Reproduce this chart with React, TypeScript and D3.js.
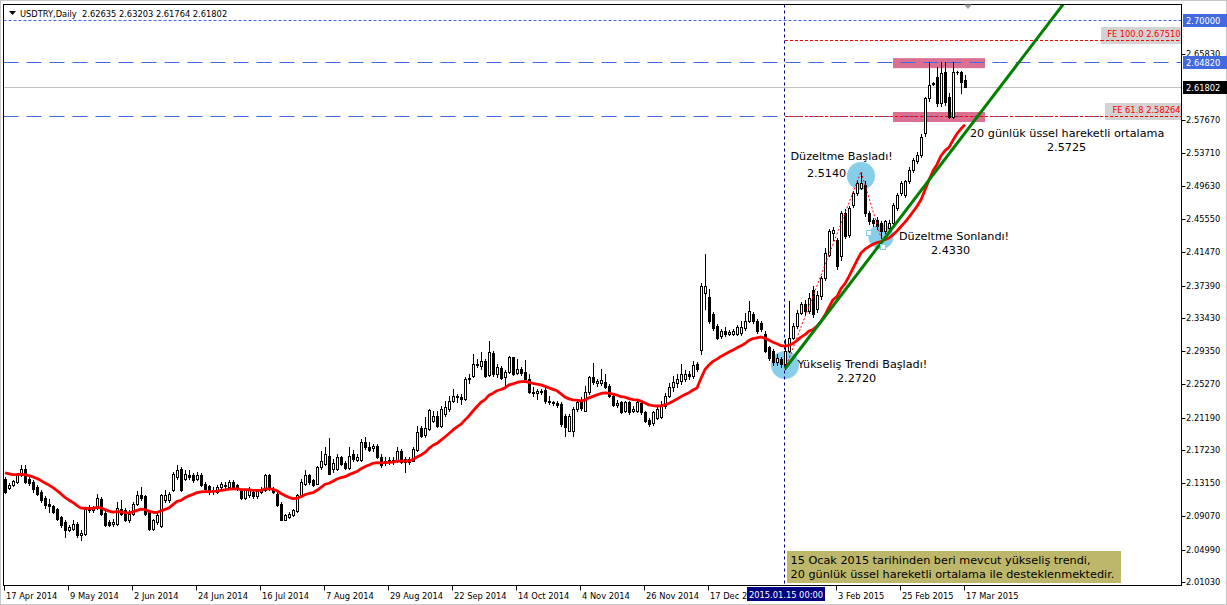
import React from 'react';
import * as d3 from 'd3';

// ---------- data (USDTRY Daily) ----------
const opens = [
  2.1370, 2.1260, 2.1297, 2.1329, 2.1411, 2.1492, 2.1370, 2.1329, 2.1268, 2.1207,
  2.1137, 2.1056, 2.1031, 2.1003, 2.0901, 2.0840, 2.0738, 2.0758, 2.0819, 2.0676,
  2.0697, 2.1015, 2.0990, 2.1015, 2.1125, 2.0950, 2.0840, 2.0811, 2.0819, 2.1003,
  2.0982, 2.0860, 2.0942, 2.1064, 2.1166, 2.1154, 2.0962, 2.0758, 2.0840, 2.0787,
  2.1105, 2.1105, 2.1227, 2.1390, 2.1492, 2.1370, 2.1419, 2.1419, 2.1370, 2.1411,
  2.1309, 2.1276, 2.1219, 2.1207, 2.1268, 2.1276, 2.1268, 2.1329, 2.1288, 2.1227,
  2.1137, 2.1166, 2.1207, 2.1154, 2.1207, 2.1227, 2.1411, 2.1248, 2.1186, 2.1064,
  2.0868, 2.0901, 2.0921, 2.0974, 2.1166, 2.1309, 2.1411, 2.1350, 2.1309, 2.1513,
  2.1554, 2.1655, 2.1492, 2.1492, 2.1635, 2.1561, 2.1504, 2.1675, 2.1602, 2.1602,
  2.1826, 2.1765, 2.1749, 2.1777, 2.1643, 2.1561, 2.1586, 2.1573, 2.1586, 2.1716,
  2.1573, 2.1573, 2.1594, 2.1724, 2.1990, 2.1912, 2.1981, 2.2083, 2.2145, 2.2022,
  2.2165, 2.2226, 2.2328, 2.2389, 2.2377, 2.2349, 2.2593, 2.2634, 2.2761, 2.2757,
  2.2818, 2.2646, 2.2908, 2.2655, 2.2728, 2.2614, 2.2675, 2.2859, 2.2663, 2.2716,
  2.2675, 2.2593, 2.2438, 2.2418, 2.2430, 2.2459, 2.2328, 2.2308, 2.2296, 2.2287,
  2.2145, 2.1961, 2.1961, 2.2226, 2.2328, 2.2206, 2.2430, 2.2614, 2.2545, 2.2540,
  2.2553, 2.2512, 2.2389, 2.2279, 2.2308, 2.2198, 2.2308, 2.2206, 2.2206, 2.2296,
  2.2185, 2.2091, 2.2051, 2.2116, 2.2132, 2.2260, 2.2390, 2.2500, 2.2540, 2.2570,
  2.2600, 2.2650, 2.2630, 2.2780, 2.2950, 2.3650, 2.3600, 2.3389, 2.3246, 2.3124,
  2.3185, 2.3150, 2.3152, 2.3152, 2.3160, 2.3226, 2.3307, 2.3389, 2.3307, 2.3287,
  2.3144, 2.2981, 2.2940, 2.2797, 2.2838, 2.2777, 2.2940, 2.3103, 2.3246, 2.3409,
  2.3511, 2.3430, 2.3692, 2.3450, 2.3610, 2.3835, 2.4121, 2.4380, 2.4305, 2.4100,
  2.4631, 2.4366, 2.4733, 2.4876, 2.4937, 2.4978, 2.4631, 2.4550, 2.4550, 2.4509,
  2.4407, 2.4448, 2.4509, 2.4692, 2.4876, 2.4856, 2.5019, 2.5162, 2.5264, 2.5344,
  2.5609, 2.6038, 2.6229, 2.6300, 2.5977, 2.6364, 2.6058, 2.5813, 2.6364, 2.6364,
  2.62635,
];
const closes = [
  2.1207, 2.1289, 2.1337, 2.1411, 2.1492, 2.1329, 2.1317, 2.1248, 2.1186, 2.1105,
  2.1044, 2.1040, 2.0962, 2.0880, 2.0799, 2.0738, 2.0778, 2.0819, 2.0676, 2.0705,
  2.1003, 2.0990, 2.1007, 2.1137, 2.0942, 2.0799, 2.0799, 2.0840, 2.1015, 2.0942,
  2.0860, 2.0942, 2.1064, 2.1166, 2.1137, 2.0942, 2.0758, 2.0860, 2.0921, 2.1166,
  2.1166, 2.1186, 2.1431, 2.1480, 2.1227, 2.1431, 2.1390, 2.1350, 2.1411, 2.1288,
  2.1248, 2.1207, 2.1235, 2.1268, 2.1309, 2.1288, 2.1329, 2.1268, 2.1268, 2.1137,
  2.1227, 2.1227, 2.1154, 2.1219, 2.1235, 2.1411, 2.1248, 2.1207, 2.1044, 2.0868,
  2.0921, 2.0942, 2.0982, 2.1166, 2.1329, 2.1411, 2.1329, 2.1288, 2.1513, 2.1594,
  2.1676, 2.1431, 2.1561, 2.1635, 2.1553, 2.1504, 2.1655, 2.1614, 2.1643, 2.1826,
  2.1757, 2.1724, 2.1769, 2.1635, 2.1533, 2.1594, 2.1602, 2.1602, 2.1716, 2.1573,
  2.1614, 2.1614, 2.1737, 2.1941, 2.1900, 2.1994, 2.2214, 2.2145, 2.2022, 2.2226,
  2.2247, 2.2328, 2.2389, 2.2369, 2.2349, 2.2593, 2.2606, 2.2777, 2.2777, 2.2810,
  2.2634, 2.2920, 2.2655, 2.2736, 2.2606, 2.2675, 2.2867, 2.2655, 2.2716, 2.2663,
  2.2593, 2.2430, 2.2418, 2.2442, 2.2451, 2.2328, 2.2308, 2.2296, 2.2279, 2.2042,
  2.2002, 2.2145, 2.2226, 2.2308, 2.2238, 2.2430, 2.2622, 2.2553, 2.2573, 2.2581,
  2.2500, 2.2389, 2.2279, 2.2300, 2.2185, 2.2308, 2.2185, 2.2222, 2.2308, 2.2185,
  2.2083, 2.2042, 2.2185, 2.2226, 2.2267, 2.2390, 2.2500, 2.2560, 2.2600, 2.2660,
  2.2660, 2.2630, 2.2770, 2.2720, 2.3733, 2.3733, 2.3300, 2.3226, 2.3103, 2.3185,
  2.3150, 2.3177, 2.3185, 2.3234, 2.3234, 2.3307, 2.3430, 2.3307, 2.3185, 2.3205,
  2.2940, 2.2858, 2.2797, 2.2858, 2.2777, 2.2940, 2.3103, 2.3246, 2.3409, 2.3511,
  2.3430, 2.3590, 2.3386, 2.3630, 2.3835, 2.4142, 2.4407, 2.4420, 2.3978, 2.4631,
  2.4346, 2.4692, 2.4876, 2.4998, 2.4998, 2.4631, 2.4529, 2.4509, 2.4468, 2.4407,
  2.4529, 2.4509, 2.4733, 2.4856, 2.4998, 2.5019, 2.5162, 2.5284, 2.5345, 2.5569,
  2.6038, 2.6200, 2.6220, 2.5977, 2.6344, 2.5997, 2.5813, 2.6364, 2.6360, 2.6242,
  2.61802,
];
const highs = [
  2.1390, 2.1317, 2.1358, 2.1439, 2.1541, 2.1533, 2.1390, 2.1350, 2.1288, 2.1227,
  2.1154, 2.1125, 2.1044, 2.1015, 2.0909, 2.0860, 2.0799, 2.0860, 2.0840, 2.0738,
  2.1023, 2.1044, 2.1031, 2.1178, 2.1146, 2.0974, 2.0860, 2.0880, 2.1084, 2.1105,
  2.1015, 2.0982, 2.1084, 2.1219, 2.1268, 2.1166, 2.0982, 2.0880, 2.0950, 2.1186,
  2.1227, 2.1207, 2.1452, 2.1533, 2.1513, 2.1472, 2.1472, 2.1439, 2.1452, 2.1439,
  2.1329, 2.1288, 2.1268, 2.1288, 2.1329, 2.1329, 2.1350, 2.1350, 2.1309, 2.1248,
  2.1248, 2.1268, 2.1227, 2.1248, 2.1268, 2.1431, 2.1423, 2.1268, 2.1207, 2.1084,
  2.0942, 2.0962, 2.1003, 2.1178, 2.1370, 2.1472, 2.1431, 2.1370, 2.1521, 2.1709,
  2.1758, 2.1871, 2.1614, 2.1675, 2.1655, 2.1594, 2.1765, 2.1724, 2.1675, 2.1859,
  2.1879, 2.1818, 2.1798, 2.1798, 2.1675, 2.1635, 2.1643, 2.1635, 2.1765, 2.1737,
  2.1643, 2.1635, 2.1757, 2.2022, 2.2022, 2.2124, 2.2226, 2.2206, 2.2206, 2.2267,
  2.2328, 2.2389, 2.2471, 2.2410, 2.2410, 2.2614, 2.2655, 2.2899, 2.2838, 2.2920,
  2.2838, 2.3063, 2.2932, 2.2777, 2.2757, 2.2704, 2.2879, 2.2867, 2.2838, 2.2736,
  2.2826, 2.2655, 2.2491, 2.2471, 2.2471, 2.2483, 2.2389, 2.2328, 2.2328, 2.2308,
  2.2165, 2.2165, 2.2255, 2.2328, 2.2369, 2.2512, 2.2634, 2.2789, 2.2593, 2.2716,
  2.2655, 2.2532, 2.2410, 2.2336, 2.2328, 2.2328, 2.2328, 2.2267, 2.2328, 2.2308,
  2.2206, 2.2116, 2.2206, 2.2247, 2.2320, 2.2420, 2.2540, 2.2631, 2.2650, 2.2773,
  2.2700, 2.2690, 2.2810, 2.2800, 2.3770, 2.4128, 2.3700, 2.3420, 2.3270, 2.3210,
  2.3230, 2.3200, 2.3210, 2.3260, 2.3300, 2.3409, 2.3552, 2.3420, 2.3330, 2.3310,
  2.3185, 2.3000, 2.2960, 2.2900, 2.2870, 2.3083, 2.3552, 2.3280, 2.3440, 2.3540,
  2.3560, 2.3650, 2.3740, 2.3680, 2.3860, 2.4203, 2.4430, 2.4460, 2.4330, 2.4660,
  2.4680, 2.4720, 2.4900, 2.5040, 2.5140, 2.5020, 2.4650, 2.4570, 2.4580, 2.4530,
  2.4550, 2.4540, 2.4760, 2.4880, 2.5030, 2.5040, 2.5190, 2.5310, 2.5380, 2.5600,
  2.6060, 2.6482, 2.6240, 2.6420, 2.6482, 2.6482, 2.6100, 2.6482, 2.6370, 2.6380,
  2.63203,
];
const lows = [
  2.1195, 2.1244, 2.1284, 2.1317, 2.1399, 2.1317, 2.1288, 2.1207, 2.1166, 2.1084,
  2.1015, 2.0962, 2.0950, 2.0868, 2.0778, 2.0656, 2.0725, 2.0738, 2.0656, 2.0615,
  2.0676, 2.0962, 2.0962, 2.1003, 2.0929, 2.0787, 2.0787, 2.0787, 2.0807, 2.0921,
  2.0848, 2.0840, 2.0921, 2.1044, 2.1105, 2.0921, 2.0738, 2.0746, 2.0819, 2.0778,
  2.1084, 2.1084, 2.1219, 2.1370, 2.1215, 2.1350, 2.1370, 2.1329, 2.1350, 2.1276,
  2.1235, 2.1186, 2.1178, 2.1195, 2.1248, 2.1248, 2.1248, 2.1248, 2.1227, 2.1125,
  2.1125, 2.1146, 2.1137, 2.1137, 2.1195, 2.1219, 2.1235, 2.1195, 2.1031, 2.0860,
  2.0860, 2.0893, 2.0909, 2.0962, 2.1154, 2.1288, 2.1309, 2.1276, 2.1300, 2.1492,
  2.1533, 2.1423, 2.1451, 2.1480, 2.1533, 2.1492, 2.1492, 2.1594, 2.1586, 2.1594,
  2.1737, 2.1708, 2.1716, 2.1627, 2.1512, 2.1533, 2.1553, 2.1553, 2.1573, 2.1561,
  2.1451, 2.1553, 2.1586, 2.1716, 2.1888, 2.1888, 2.1969, 2.2063, 2.2010, 2.2010,
  2.2145, 2.2206, 2.2308, 2.2308, 2.2287, 2.2336, 2.2540, 2.2622, 2.2736, 2.2716,
  2.2622, 2.2634, 2.2634, 2.2614, 2.2593, 2.2512, 2.2663, 2.2646, 2.2655, 2.2646,
  2.2573, 2.2418, 2.2389, 2.2349, 2.2410, 2.2296, 2.2287, 2.2279, 2.2255, 2.2022,
  2.1900, 2.1953, 2.1900, 2.2206, 2.2214, 2.2198, 2.2410, 2.2532, 2.2512, 2.2524,
  2.2483, 2.2377, 2.2267, 2.2255, 2.2173, 2.2185, 2.2165, 2.2185, 2.2185, 2.2165,
  2.2063, 2.2022, 2.2034, 2.2104, 2.2116, 2.2240, 2.2370, 2.2447, 2.2500, 2.2529,
  2.2570, 2.2590, 2.2610, 2.2690, 2.2900, 2.3450, 2.3280, 2.3200, 2.3080, 2.3100,
  2.3120, 2.3130, 2.3130, 2.3130, 2.3140, 2.3200, 2.3290, 2.3280, 2.3160, 2.3180,
  2.2920, 2.2830, 2.2770, 2.2760, 2.2740, 2.2720, 2.2920, 2.3080, 2.3220, 2.3390,
  2.3380, 2.3400, 2.3360, 2.3420, 2.3580, 2.3810, 2.4100, 2.4300, 2.3940, 2.4050,
  2.4320, 2.4340, 2.4700, 2.4850, 2.4920, 2.4600, 2.4500, 2.4470, 2.4440, 2.4330,
  2.4380, 2.4420, 2.4480, 2.4670, 2.4850, 2.4830, 2.5000, 2.5140, 2.5240, 2.5320,
  2.5580, 2.6000, 2.6200, 2.5950, 2.5950, 2.5960, 2.5800, 2.5800, 2.6340, 2.6099,
  2.61764,
];

const emaPeriod = 20;
const emaStart = 2.1444;

const priceTicks = [2.6583, 2.5767, 2.5371, 2.4963, 2.4555, 2.4147, 2.3739, 2.3343,
  2.2935, 2.2527, 2.2119, 2.1723, 2.1315, 2.0907, 2.0499, 2.0103];

const dateTickBars = [0, 16, 32, 48, 64, 80, 96, 112, 128, 144, 160, 176, 208, 224, 240];
// '17 Dec 2014' is partly hidden behind the crosshair date label in the reference
const dateTickLabels = ['17 Apr 2014', '9 May 2014', '2 Jun 2014', '24 Jun 2014', '16 Jul 2014',
  '7 Aug 2014', '29 Aug 2014', '22 Sep 2014', '14 Oct 2014', '4 Nov 2014', '26 Nov 2014',
  '17 Dec 2', '3 Feb 2015', '25 Feb 2015', '17 Mar 2015'];

const crossBar = 195;
const crossLabel = '2015.01.15 00:00';
const headerText = 'USDTRY,Daily  2.62635 2.63203 2.61764 2.61802';

const topLevel = 2.7;
const dashedLevels = [2.6482, 2.5822];
const bidLevel = 2.61802;
const feLevels = [2.6751, 2.58264];
const feLabels = ['FE 100.0 2.67510', 'FE 61.8 2.58264'];
const fePointBars = [195, 214, 219];
const fePointPrices = [2.272, 2.514, 2.433];
const trendBars = [195, 240];
const trendPrices = [2.272, 2.5614];
const zoneBars = [222, 245];
const zonesLo = [2.6409, 2.5748];
const zonesHi = [2.6532, 2.5871];
const circleBars = [195, 214, 219];
const circlePrices = [2.2766, 2.5086, 2.4341];
const circleRadii = [14, 14, 12.5];
const handleBars = [216, 219.5];
const handlePrices = [2.439, 2.4218];

// ---------- chart ----------
const W = 1227;
const H = 605;
const L = 3.5, T = 4.5, R = 1181.5, B = 585.5;
const SANS = '"DejaVu Sans", Verdana, sans-serif';

export default function App() {
  const x = d3.scaleLinear().domain([0, 240]).range([5, 965]);
  const y = d3.scaleLinear().domain([2.0103, 2.7]).range([582, 20]);

  const k = 2 / (emaPeriod + 1);
  const ema: number[] = [];
  closes.forEach((c, i) => {
    ema.push(i === 0 ? emaStart : ema[i - 1] + k * (c - ema[i - 1]));
  });
  const emaPath = d3.line<number>().x((_, i) => x(i)).y((v) => y(v)).curve(d3.curveLinear)(ema) || '';

  const slope = (trendPrices[1] - trendPrices[0]) / (trendBars[1] - trendBars[0]);
  const trendEndBar = 290;
  const trendEndPrice = trendPrices[0] + slope * (trendEndBar - trendBars[0]);

  const fePath = d3.line<number>().x((b) => x(b)).y((_, i) => y(fePointPrices[i]))(fePointBars) || '';

  const crossX = Math.round(x(crossBar)) - 0.5;

  return (
    <div style={{ position: 'absolute', left: 0, top: 0 }}>
      <svg width={W} height={H} style={{ display: 'block', background: '#fff' }}>
        <defs>
          <clipPath id="plot">
            <rect x={L + 0.5} y={T + 0.5} width={R - L - 1} height={B - T - 1} />
          </clipPath>
        </defs>
        <rect x={0} y={0} width={W} height={H} fill="#fff" />
        <rect x={0.5} y={0.5} width={W - 1} height={H - 1} fill="none" stroke="#c8c8c8" />

        <g clipPath="url(#plot)">
          {/* zones */}
          {zonesLo.map((lo, i) => (
            <rect key={'z' + i} x={x(zoneBars[0])} y={y(zonesHi[i])} width={x(zoneBars[1]) - x(zoneBars[0])}
              height={y(lo) - y(zonesHi[i])} fill="#DB7093" />
          ))}
          {/* circles */}
          {circleBars.map((b, i) => (
            <circle key={'c' + i} cx={x(b)} cy={y(circlePrices[i])} r={circleRadii[i]} fill="#87CEEB" />
          ))}
          {/* horizontal levels */}
          <line x1={L} x2={R} y1={Math.round(y(bidLevel)) + 0.5} y2={Math.round(y(bidLevel)) + 0.5} stroke="#C0C0C0" />
          <line x1={L} x2={R} y1={Math.round(y(topLevel)) + 0.5} y2={Math.round(y(topLevel)) + 0.5} stroke="#4169E1" strokeDasharray="3,2" />
          {dashedLevels.map((v, i) => (
            <line key={'d' + i} x1={L} x2={R} y1={Math.round(y(v)) + 0.5} y2={Math.round(y(v)) + 0.5} stroke="#4169E1" strokeDasharray="15,8" />
          ))}
          {feLevels.map((v, i) => (
            <line key={'f' + i} x1={x(crossBar)} x2={R} y1={Math.round(y(v)) + 0.5} y2={Math.round(y(v)) + 0.5} stroke="#FF0000" strokeDasharray="3,2" />
          ))}
          {/* crosshair vertical */}
          <line x1={crossX} x2={crossX} y1={T} y2={B} stroke="#000080" strokeDasharray="3,3" />

          {/* candles */}
          {opens.map((o, i) => {
            const c = closes[i];
            const hi = Math.max(highs[i], o, c);
            const lo = Math.min(lows[i], o, c);
            const cx = Math.round(x(i));
            const yTop = Math.round(y(Math.max(o, c)));
            const yBot = Math.round(y(Math.min(o, c)));
            const bull = c >= o;
            return (
              <g key={'k' + i}>
                <line x1={cx + 0.5} x2={cx + 0.5} y1={Math.round(y(hi))} y2={Math.round(y(lo)) + 1} stroke="#000" />
                {yBot - yTop >= 1 ? (
                  <rect x={cx - 0.5} y={yTop + 0.5} width={2} height={yBot - yTop} fill={bull ? '#fff' : '#000'} stroke="#000" />
                ) : (
                  <line x1={cx - 1} x2={cx + 2} y1={yTop + 0.5} y2={yTop + 0.5} stroke="#000" />
                )}
              </g>
            );
          })}

          {/* EMA 20 */}
          <path d={emaPath} fill="none" stroke="#FF0000" strokeWidth={2.8} strokeLinejoin="round" />
          {/* trend line */}
          <line x1={x(trendBars[0])} y1={y(trendPrices[0])} x2={x(trendEndBar)} y2={y(trendEndPrice)} stroke="#008000" strokeWidth={3} />
          {/* FE dotted path */}
          <path d={fePath} fill="none" stroke="#FF0000" strokeDasharray="2,2" />
          {handleBars.map((b, i) => (
            <rect key={'h' + i} x={Math.round(x(b)) - 2.5} y={Math.round(y(handlePrices[i])) - 2.5} width={5} height={5} fill="#fff" stroke="#87CEEB" />
          ))}
        </g>

        {/* FE labels */}
        {feLevels.map((v, i) => {
          const yy = Math.round(y(v));
          return (
            <g key={'fl' + i}>
              <rect x={1101 + i * 4} y={yy - 13} width={R - 1101 - i * 4} height={17} fill="#D3D3D3" />
              <line x1={1101 + i * 4} x2={R} y1={yy + 0.5} y2={yy + 0.5} stroke="#FF0000" strokeDasharray="3,2" />
              <text x={R - 1} y={yy - 3} textAnchor="end" fontFamily={SANS} fontSize={8.3} fill="#FF0000">{feLabels[i]}</text>
            </g>
          );
        })}

        {/* annotations */}
        <g fontFamily={SANS} fontSize={11.2} fill="#000">
          <text x={790.5} y={160}>Düzeltme Başladı!</text>
          <text x={807} y={176.5}>2.5140</text>
          <text x={899} y={240}>Düzeltme Sonlandı!</text>
          <text x={931} y={253.5}>2.4330</text>
          <text x={797.5} y={368}>Yükseliş Trendi Başladı!</text>
          <text x={837} y={381.5}>2.2720</text>
          <text x={970} y={137}>20 günlük üssel hareketli ortalama</text>
          <text x={1047} y={150.5}>2.5725</text>
        </g>

        {/* note box */}
        <rect x={787} y={551} width={334} height={32} fill="#BDB76B" />
        <g fontFamily={SANS} fontSize={11.25} fill="#000">
          <text x={790.5} y={563.5}>15 Ocak 2015 tarihinden beri mevcut yükseliş trendi,</text>
          <text x={790.5} y={577.5}>20 günlük üssel hareketli ortalama ile desteklenmektedir.</text>
        </g>

        {/* frame */}
        <rect x={L} y={T} width={R - L} height={B - T} fill="none" stroke="#000" />

        {/* header */}
        <path d="M9,11 L16,11 L12.5,15 Z" fill="#000" />
        <text x={20} y={16.5} fontFamily={SANS} fontSize={8.3} fill="#000" style={{ whiteSpace: 'pre' }}>{headerText}</text>
        <path d="M964,4.5 L972,4.5 L968,9 Z" fill="#A0A0A0" />

        {/* price axis */}
        <g fontFamily={SANS} fontSize={8.3} fill="#000">
          {priceTicks.map((v) => {
            const yy = Math.round(y(v));
            return (
              <g key={'p' + v}>
                <line x1={R} x2={R + 4} y1={yy + 0.5} y2={yy + 0.5} stroke="#000" />
                <text x={1186} y={yy + 3}>{v.toFixed(5)}</text>
              </g>
            );
          })}
          {[topLevel, dashedLevels[0]].map((v) => {
            const yy = Math.round(y(v));
            return (
              <g key={'pb' + v}>
                <rect x={1183} y={yy - 6} width={44} height={13} fill="#4169E1" />
                <text x={1186} y={yy + 3.5} fill="#fff">{v.toFixed(5)}</text>
              </g>
            );
          })}
          {(() => {
            const yy = Math.round(y(bidLevel));
            return (
              <g>
                <rect x={1183} y={yy - 6} width={44} height={13} fill="#000" />
                <text x={1186} y={yy + 3.5} fill="#fff">{bidLevel.toFixed(5)}</text>
              </g>
            );
          })()}
        </g>

        {/* date axis */}
        <g fontFamily={SANS} fontSize={8.3} fill="#000">
          {dateTickBars.map((b, i) => {
            const xx = Math.round(x(b));
            return (
              <g key={'t' + b}>
                <line x1={xx - 0.5} x2={xx - 0.5} y1={B} y2={B + 5} stroke="#000" />
                <text x={xx + 1} y={599}>{dateTickLabels[i]}</text>
              </g>
            );
          })}
          <rect x={747} y={587} width={78} height={14} fill="#000080" />
          <text x={786} y={598} textAnchor="middle" fill="#fff">{crossLabel}</text>
        </g>
      </svg>
    </div>
  );
}
